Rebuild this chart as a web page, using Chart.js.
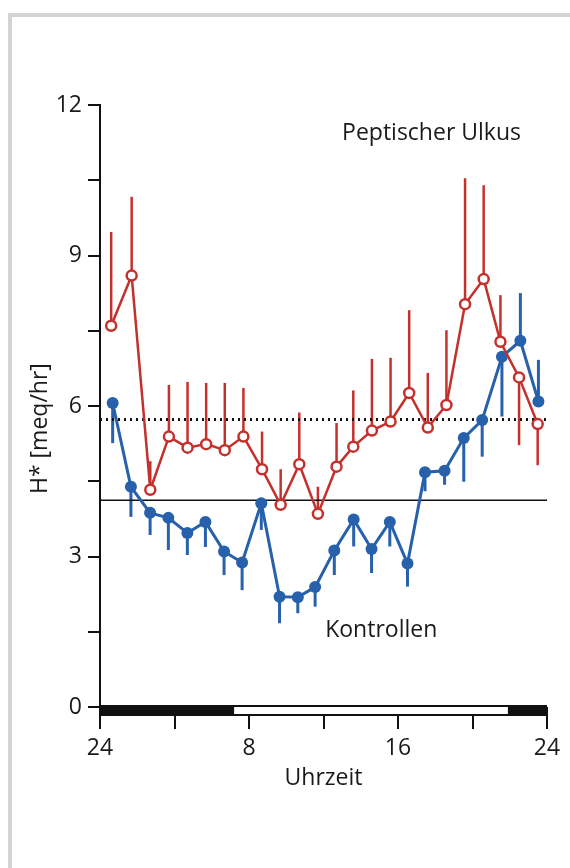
<!DOCTYPE html>
<html>
<head>
<meta charset="utf-8">
<script src="https://cdn.jsdelivr.net/npm/chart.js@4.4.1/dist/chart.umd.min.js"></script>
<style>
    html, body { margin: 0; padding: 0; background: #ffffff; }
    #wrap { position: relative; width: 570px; height: 868px; overflow: hidden; }
    #frame { position: absolute; left: 8px; top: 13px; right: 0; bottom: 0; border-left: 4px solid #d4d4d4; border-top: 4px solid #d4d4d4; }
    #chart { position: absolute; left: 0; top: 0; }
</style>
</head>
<body>
<div id="wrap">
    <div id="frame"></div>
    <canvas id="chart" width="570" height="868"></canvas>
</div>
<script>
// Peptic ulcer group (hollow red circles), error bars point up (last two down)
const ulkusHours = [0.6, 1.7, 2.7, 3.7, 4.7, 5.7, 6.7, 7.7, 8.7, 9.7, 10.7, 11.7, 12.7, 13.6, 14.6, 15.6, 16.6, 17.6, 18.6, 19.6, 20.6, 21.5, 22.5, 23.5];
const ulkusValues = [7.6, 8.6, 4.33, 5.39, 5.17, 5.24, 5.12, 5.39, 4.74, 4.03, 4.84, 3.85, 4.79, 5.19, 5.51, 5.69, 6.26, 5.57, 6.02, 8.03, 8.53, 7.28, 6.57, 5.64];
const ulkusErrEnd = [9.47, 10.17, 4.9, 6.42, 6.48, 6.46, 6.46, 6.36, 5.49, 4.74, 5.87, 4.39, 5.66, 6.31, 6.94, 6.96, 7.91, 6.66, 7.51, 10.54, 10.4, 8.21, 5.22, 4.82];

// Control group (filled blue circles), error bars point down (last two up)
const kontrollHours = [0.68, 1.66, 2.69, 3.67, 4.69, 5.66, 6.66, 7.63, 8.66, 9.64, 10.62, 11.55, 12.58, 13.62, 14.58, 15.56, 16.51, 17.45, 18.5, 19.53, 20.52, 21.58, 22.57, 23.54];
const kontrollValues = [6.06, 4.39, 3.87, 3.77, 3.47, 3.69, 3.1, 2.88, 4.06, 2.2, 2.19, 2.39, 3.12, 3.74, 3.15, 3.69, 2.86, 4.68, 4.71, 5.36, 5.72, 6.98, 7.3, 6.09];
const kontrollErrEnd = [5.26, 3.79, 3.43, 3.13, 3.03, 3.19, 2.63, 2.33, 3.53, 1.67, 1.87, 2.0, 2.63, 3.2, 2.67, 3.2, 2.4, 4.3, 4.43, 4.49, 4.99, 5.79, 8.25, 6.92];

// Mean levels (horizontal lines)
const ulkusMean = 5.73;
const kontrollMean = 4.12;

// Day/night bar below the axis (hours)
const nightEnd = 7.2;
const dayEnd = 21.9;

const xTickLabels = { 0: '24', 8: '8', 16: '16', 24: '24' };

const redColor = '#c4302c';
const blueColor = '#2760ab';
const textColor = '#1a1a1a';
const fontFamily = '"Open Sans", sans-serif';

function toPoints(xs, ys) {
    return xs.map((x, i) => ({ x: x, y: ys[i] }));
}

// Vertical error bars, drawn under the lines and markers
const errorBarPlugin = {
    id: 'errorBars',
    beforeDatasetsDraw(chart) {
        const { ctx, scales: { x, y } } = chart;
        const sets = [
            { xs: ulkusHours, ys: ulkusValues, ends: ulkusErrEnd, color: redColor, width: 2.5 },
            { xs: kontrollHours, ys: kontrollValues, ends: kontrollErrEnd, color: blueColor, width: 3 }
        ];
        ctx.save();
        sets.forEach(s => {
            ctx.strokeStyle = s.color;
            ctx.lineWidth = s.width;
            s.xs.forEach((h, i) => {
                const px = x.getPixelForValue(h);
                ctx.beginPath();
                ctx.moveTo(px, y.getPixelForValue(s.ys[i]));
                ctx.lineTo(px, y.getPixelForValue(s.ends[i]));
                ctx.stroke();
            });
        });
        ctx.restore();
    }
};

// Night/day bar under the x axis, group labels and the y axis title
const decorPlugin = {
    id: 'decor',
    afterDraw(chart) {
        const { ctx, chartArea, scales: { x, y } } = chart;
        const top = chartArea.bottom - 2;
        const h = 11;
        ctx.save();
        ctx.fillStyle = '#111111';
        ctx.fillRect(x.getPixelForValue(0), top, x.getPixelForValue(24) - x.getPixelForValue(0), h);
        ctx.fillStyle = '#ffffff';
        ctx.fillRect(x.getPixelForValue(nightEnd), top + 2, x.getPixelForValue(dayEnd) - x.getPixelForValue(nightEnd), h - 4);

        ctx.fillStyle = textColor;
        ctx.font = '23px ' + fontFamily;
        ctx.textAlign = 'center';
        ctx.textBaseline = 'middle';
        ctx.fillText('Peptischer Ulkus', x.getPixelForValue(17.8), y.getPixelForValue(11.44));
        ctx.fillText('Kontrollen', x.getPixelForValue(15.1), y.getPixelForValue(1.53));

        // y title sits a bit below the middle of the axis in the original
        ctx.translate(40, y.getPixelForValue(5.55));
        ctx.rotate(-Math.PI / 2);
        ctx.fillText('H* [meq/hr]', 0, 0);
        ctx.restore();
    }
};

new Chart(document.getElementById('chart').getContext('2d'), {
    type: 'scatter',
    data: {
        datasets: [
            {
                label: 'Peptischer Ulkus',
                data: toPoints(ulkusHours, ulkusValues),
                showLine: true,
                borderColor: redColor,
                borderWidth: 2.5,
                pointRadius: 5,
                pointBorderWidth: 2.5,
                pointBackgroundColor: '#ffffff',
                pointBorderColor: redColor
            },
            {
                label: 'Kontrollen',
                data: toPoints(kontrollHours, kontrollValues),
                showLine: true,
                borderColor: blueColor,
                borderWidth: 3,
                pointRadius: 6,
                pointBorderWidth: 0,
                pointBackgroundColor: blueColor,
                pointBorderColor: blueColor
            },
            {
                label: 'Mittel Ulkus',
                data: [{ x: 0, y: ulkusMean }, { x: 24, y: ulkusMean }],
                showLine: true,
                borderColor: '#111111',
                borderWidth: 3,
                borderDash: [2, 4],
                pointRadius: 0
            },
            {
                label: 'Mittel Kontrollen',
                data: [{ x: 0, y: kontrollMean }, { x: 24, y: kontrollMean }],
                showLine: true,
                borderColor: '#111111',
                borderWidth: 1.5,
                pointRadius: 0
            }
        ]
    },
    options: {
        responsive: false,
        animation: false,
        layout: { padding: { left: 0, top: 105, right: 23, bottom: 76 } },
        plugins: {
            legend: { display: false },
            tooltip: { enabled: false }
        },
        scales: {
            x: {
                type: 'linear',
                min: 0,
                max: 24,
                afterFit: scale => { scale.height = 85; },
                border: { display: false },
                grid: {
                    drawOnChartArea: false,
                    drawTicks: true,
                    tickLength: 22,
                    color: '#111111',
                    lineWidth: 2
                },
                ticks: {
                    stepSize: 4,
                    padding: 6,
                    color: textColor,
                    font: { family: fontFamily, size: 23 },
                    callback: v => xTickLabels[v] !== undefined ? xTickLabels[v] : ''
                },
                title: {
                    display: true,
                    text: 'Uhrzeit',
                    color: textColor,
                    font: { family: fontFamily, size: 23 },
                    padding: { top: 0, bottom: 0 }
                }
            },
            y: {
                min: 0,
                max: 12,
                afterFit: scale => { scale.width = 100; },
                border: { display: true, color: '#111111', width: 2 },
                grid: {
                    drawOnChartArea: false,
                    drawTicks: true,
                    tickLength: 12,
                    color: '#111111',
                    lineWidth: 2
                },
                ticks: {
                    stepSize: 1.5,
                    padding: 6,
                    color: textColor,
                    font: { family: fontFamily, size: 23 },
                    callback: v => (v % 3 === 0 ? String(v) : '')
                }
            }
        }
    },
    plugins: [errorBarPlugin, decorPlugin]
});
</script>
</body>
</html>
